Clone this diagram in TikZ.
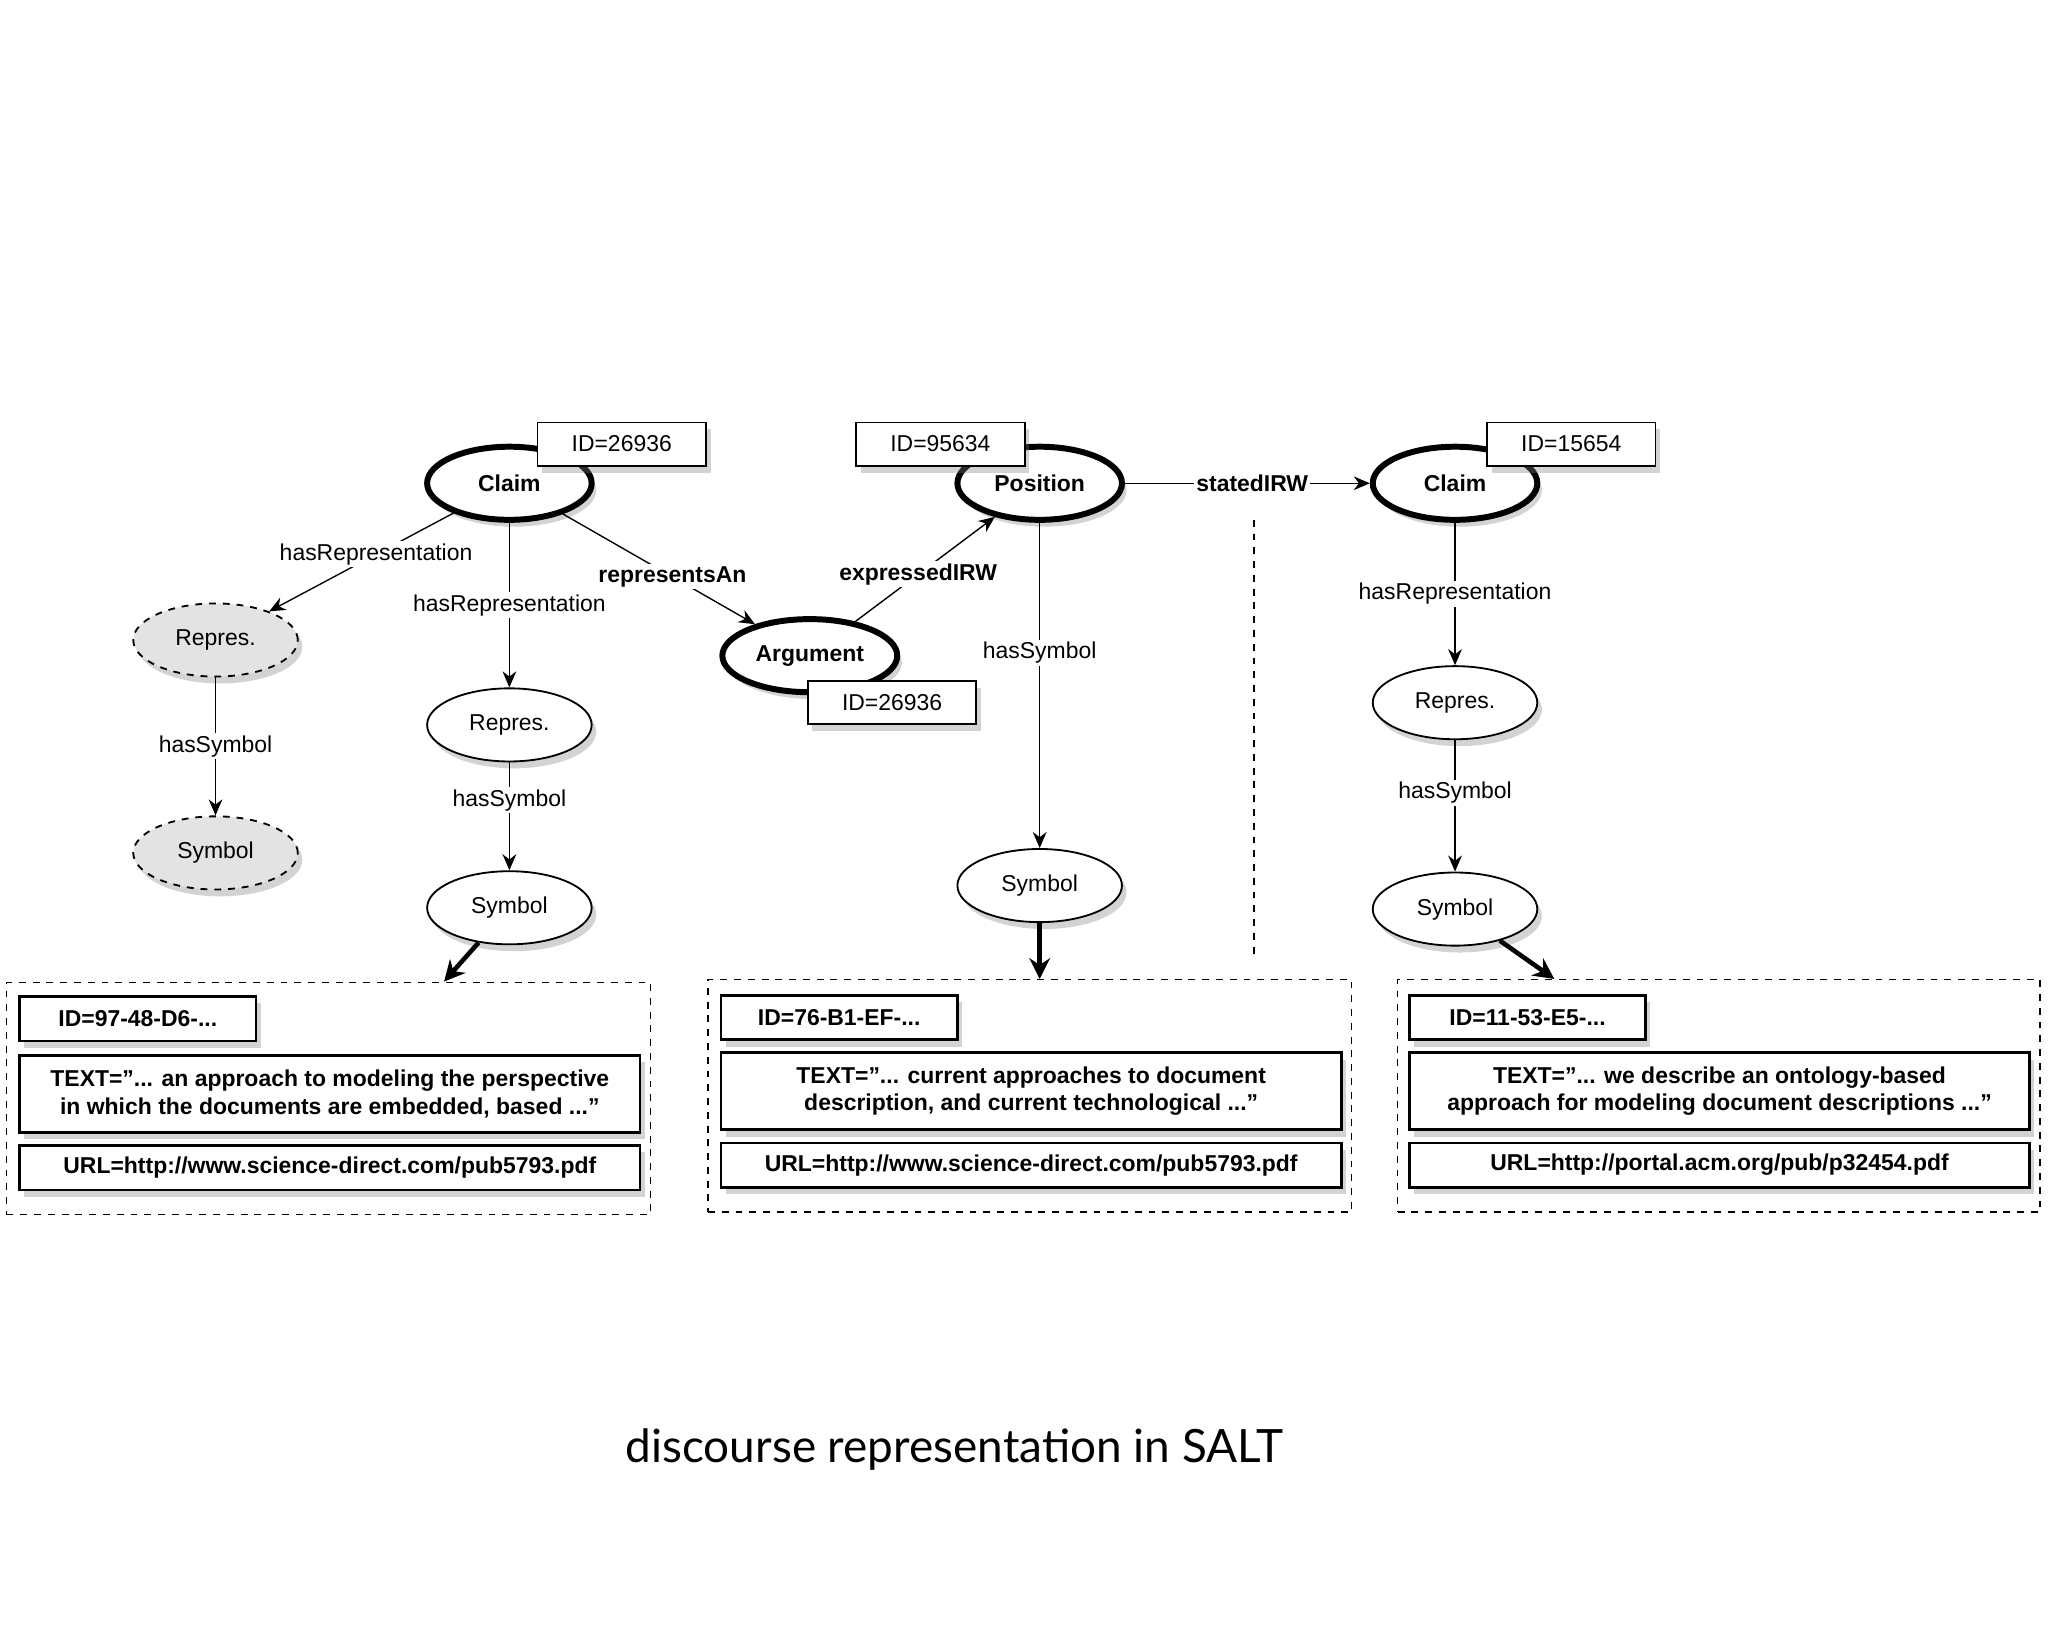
\documentclass[tikz,border=0pt]{standalone}
\usepackage{fontspec}
\setmainfont{Liberation Sans}
\newfontfamily\capfont{Lato}
\usetikzlibrary{shapes.geometric,shadows,arrows.meta}
\begin{document}
\begin{tikzpicture}[x=0.02cm,y=-0.02cm,
  ell/.style={ellipse,draw,fill=white,minimum width=126\pgflinewidth*0+2.52cm,minimum height=1.12cm,line width=0.8pt,font=\fontsize{10}{12}\selectfont,drop shadow={shadow xshift=2pt,shadow yshift=-3pt,opacity=0.35}},
  big/.style={ell,line width=2.6pt,font=\bfseries\fontsize{10}{12}\selectfont},
  ghost/.style={ell,dashed,fill=gray!22},
  idb/.style={draw,fill=white,line width=0.8pt,minimum width=2.58cm,minimum height=0.66cm,font=\fontsize{10}{12}\selectfont,drop shadow={shadow xshift=2pt,shadow yshift=-3pt,opacity=0.35}},
  ibox/.style={draw,fill=white,line width=1.2pt,font=\bfseries\fontsize{10}{12}\selectfont,align=center,inner sep=0pt,drop shadow={shadow xshift=2pt,shadow yshift=-3pt,opacity=0.35}},
  lab/.style={fill=white,inner sep=1pt,font=\fontsize{10}{12}\selectfont},
  blab/.style={lab,font=\bfseries\fontsize{10}{12}\selectfont},
  arr/.style={-{Stealth[length=7pt,width=6pt]},line width=0.6pt},
  tarr/.style={-{Stealth[length=9pt,width=9pt]},line width=2pt},
  dbox/.style={draw,dashed,line width=0.6pt}]
\useasboundingbox (0,0) rectangle (1568,1254);
% nodes
\node[big] (c1) at (390,370) {Claim};
\node[idb] (id1) at (476,340) {ID=26936};
\node[big] (pos) at (796,370) {Position};
\node[idb] (id2) at (720,340) {ID=95634};
\node[big] (c3) at (1114,370) {Claim};
\node[idb] (id3) at (1203,340) {ID=15654};
\node[big] (arg) at (620,502) {Argument};
\node[idb] (id4) at (683,538) {ID=26936};
\node[ghost] (gr) at (165,490) {Repres.};
\node[ghost] (gs) at (165,653) {Symbol};
\node[ell] (r1) at (390,555) {Repres.};
\node[ell] (s1) at (390,695) {Symbol};
\node[ell] (s2) at (796,678) {Symbol};
\node[ell] (r3) at (1114,538) {Repres.};
\node[ell] (s3) at (1114,696) {Symbol};
% dashed boxes
\node[dbox,minimum width=9.86cm,minimum height=3.56cm] (b1) at (251.5,841) {};
\node[dbox,minimum width=9.86cm,minimum height=3.56cm] (b2) at (788.5,839) {};
\node[dbox,minimum width=9.84cm,minimum height=3.56cm] (b3) at (1316,839) {};
\node[ibox,minimum width=3.62cm,minimum height=0.68cm] (i1) at (105.5,780) {ID=97-48-D6-...};
\node[ibox,minimum width=9.5cm,minimum height=1.18cm] (t1) at (252.5,837.5) {TEXT="... an approach to modeling the perspective\\in which the documents are embedded, based ..."};
\node[ibox,minimum width=9.5cm,minimum height=0.68cm] (u1) at (252.5,894) {URL=http://www.science-direct.com/pub5793.pdf};
\node[ibox,minimum width=3.62cm,minimum height=0.68cm] (i2) at (642.5,779) {ID=76-B1-EF-...};
\node[ibox,minimum width=9.5cm,minimum height=1.18cm] (t2) at (789.5,835.5) {TEXT="... current approaches to document\\description, and current technological ..."};
\node[ibox,minimum width=9.5cm,minimum height=0.68cm] (u2) at (789.5,892) {URL=http://www.science-direct.com/pub5793.pdf};
\node[ibox,minimum width=3.62cm,minimum height=0.68cm] (i3) at (1169.5,779) {ID=11-53-E5-...};
\node[ibox,minimum width=9.5cm,minimum height=1.18cm] (t3) at (1316.5,835.5) {TEXT="... we describe an ontology-based\\approach for modeling document descriptions ..."};
\node[ibox,minimum width=9.5cm,minimum height=0.68cm] (u3) at (1316.5,892) {URL=http://portal.acm.org/pub/p32454.pdf};
% edges
\draw[arr] (c1) -- (gr) node[lab,pos=0.42] {hasRepresentation};
\draw[arr] (c1) -- (r1) node[lab,pos=0.5] {hasRepresentation};
\draw[arr] (c1) -- (arg) node[blab,pos=0.57] {representsAn};
\draw[arr] (arg) -- (pos) node[blab,pos=0.45] {expressedIRW};
\draw[arr] (pos) -- (s2) node[lab,pos=0.4] {hasSymbol};
\draw[arr] (pos) -- (c3) node[blab,pos=0.52] {statedIRW};
\draw[arr] (gr) -- (gs) node[lab,pos=0.5] {hasSymbol};
\draw[arr] (r1) -- (s1) node[lab,pos=0.35] {hasSymbol};
\draw[arr] (c3) -- (r3) node[lab,pos=0.5] {hasRepresentation};
\draw[arr] (r3) -- (s3) node[lab,pos=0.4] {hasSymbol};
\draw[tarr] (s1) -- (b1.north -| 340,0);
\draw[tarr] (s2) -- (b2.north -| s2);
\draw[tarr] (s3) -- (b3.north -| 1190,0);
\coordinate (v1) at (960,398); \coordinate (v2) at (960,735);
\draw[dashed,line width=0.6pt] (v1) -- (v2);
\node[font=\capfont\fontsize{20}{24}\selectfont] (cap) at (731,1110) {discourse representation in SALT};
\end{tikzpicture}
\end{document}
